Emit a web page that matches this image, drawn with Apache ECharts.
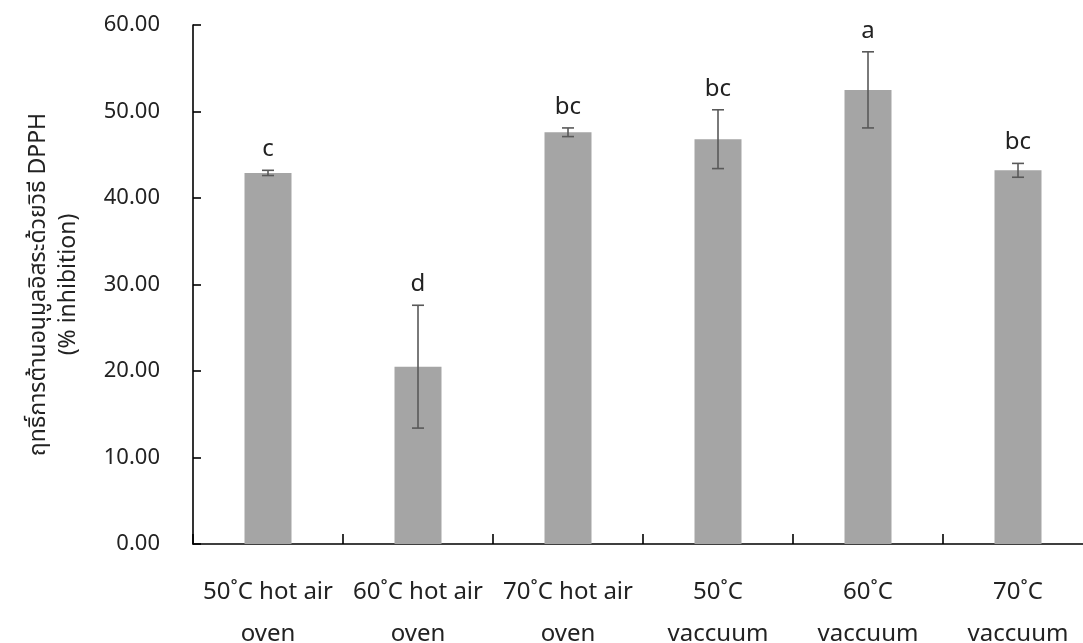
<!DOCTYPE html>
<html>
<head>
<meta charset="utf-8">
<script src="https://cdn.jsdelivr.net/npm/echarts@6/dist/echarts.min.js"></script>
<style>
  html, body { margin: 0; padding: 0; background: #fff; }
  #chart { width: 1083px; height: 643px; }
</style>
</head>
<body>
<div id="chart"></div>
<script>
// Drying treatments
const categories = [
  '50˚C hot air\noven',
  '60˚C hot air\noven',
  '70˚C hot air\noven',
  '50˚C\nvaccuum',
  '60˚C\nvaccuum',
  '70˚C\nvaccuum'
];
// DPPH radical scavenging (% inhibition): mean and SD
const means = [42.9, 20.5, 47.6, 46.8, 52.5, 43.2];
const sds = [0.3, 7.1, 0.5, 3.4, 4.4, 0.8];
// Significance letters
const letters = ['c', 'd', 'bc', 'bc', 'a', 'bc'];
// Value axis
const yMin = 0, yMax = 60, yStep = 10;

const FONT = '"Noto Sans", "Noto Sans Thai", "Leelawadee UI", Tahoma, sans-serif';

const chart = echarts.init(document.getElementById('chart'), null, { renderer: 'canvas' });

function renderErrorBar(params, api) {
  const i = api.value(0);
  const m = api.value(1);
  const s = api.value(2);
  const top = api.coord([i, m + s]);
  const bot = api.coord([i, m - s]);
  const half = 6;
  const st = { stroke: '#595959', lineWidth: 1.6 };
  return {
    type: 'group',
    children: [
      { type: 'line', shape: { x1: top[0], y1: top[1], x2: bot[0], y2: bot[1] }, style: st },
      { type: 'line', shape: { x1: top[0] - half, y1: top[1], x2: top[0] + half, y2: top[1] }, style: st },
      { type: 'line', shape: { x1: bot[0] - half, y1: bot[1], x2: bot[0] + half, y2: bot[1] }, style: st },
      {
        type: 'text',
        x: top[0],
        y: top[1] - 21,
        style: {
          text: letters[params.dataIndex],
          fill: '#222',
          font: '24px ' + FONT,
          textAlign: 'center',
          textVerticalAlign: 'middle'
        }
      }
    ]
  };
}

chart.setOption({
  animation: false,
  textStyle: { fontFamily: FONT },
  grid: { left: 193, top: 25, width: 900, height: 519, outerBoundsMode: 'none', containLabel: false },
  xAxis: {
    type: 'category',
    data: categories,
    boundaryGap: true,
    axisLine: { lineStyle: { color: '#000', width: 1.6 } },
    axisTick: { show: true, inside: true, length: 10, lineStyle: { color: '#000', width: 1.6 } },
    axisLabel: {
      interval: 0,
      color: '#222',
      fontSize: 24,
      lineHeight: 42,
      margin: 27,
      fontFamily: FONT
    }
  },
  yAxis: {
    type: 'value',
    min: yMin,
    max: yMax,
    interval: yStep,
    name: 'ฤทธิ์การต้านอนุมูลอิสระด้วยวิธี DPPH\n(% inhibition)',
    nameLocation: 'middle',
    nameGap: 110,
    nameRotate: 90,
    nameTextStyle: { color: '#222', fontSize: 23, lineHeight: 30, fontFamily: FONT },
    axisLine: { show: true, lineStyle: { color: '#000', width: 1.6 } },
    axisTick: { show: true, inside: true, length: 8, lineStyle: { color: '#000', width: 1.6 } },
    splitLine: { show: false },
    axisLabel: {
      color: '#222',
      fontSize: 22,
      margin: 33,
      fontFamily: FONT,
      formatter: v => v.toFixed(2)
    }
  },
  series: [
    {
      type: 'bar',
      data: means,
      barWidth: 47,
      itemStyle: { color: '#a5a5a5' }
    },
    {
      type: 'custom',
      renderItem: renderErrorBar,
      data: means.map((m, i) => [i, m, sds[i]]),
      encode: { x: 0, y: 1 },
      z: 10
    }
  ]
});
</script>
</body>
</html>
